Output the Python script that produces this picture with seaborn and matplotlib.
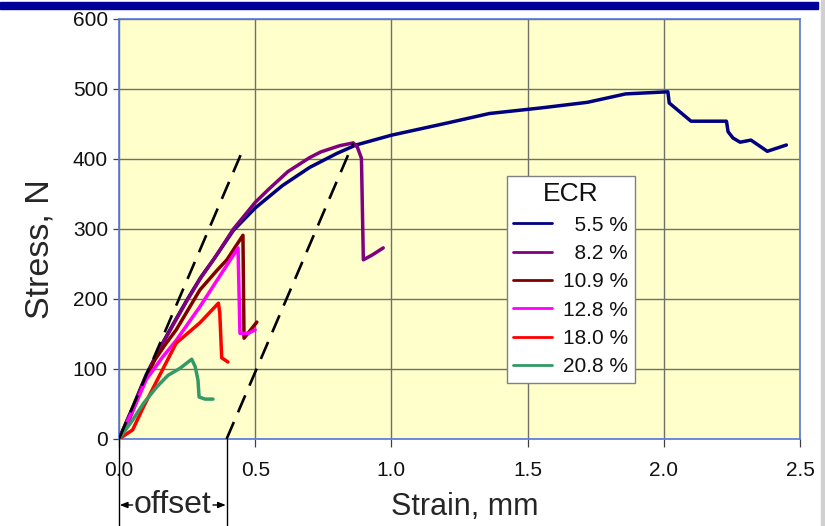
import numpy as np
import pandas as pd
import matplotlib
matplotlib.use("Agg")
import matplotlib.pyplot as plt
from matplotlib.patches import Rectangle
import seaborn as sns

# ---------------- data ----------------
ecr_labels = ["  5.5 %", "  8.2 %", "10.9 %", "12.8 %", "18.0 %", "20.8 %"]
ecr_colors = ["#000080", "#800080", "#800000", "#FF00FF", "#FF0000", "#339966"]

x_55 = [0, 0.05, 0.10, 0.15, 0.20, 0.25, 0.30, 0.35, 0.42, 0.50, 0.60, 0.70, 0.80, 0.87,
        1.00, 1.20, 1.36, 1.55, 1.72, 1.86, 2.015, 2.02, 2.10, 2.23, 2.236, 2.254, 2.28,
        2.32, 2.38, 2.45]
y_55 = [0, 45, 92, 130, 165, 199, 231, 258, 298, 330, 362, 388, 408, 420,
        434, 451, 465, 473, 481, 493, 496, 480, 454, 454, 439, 430, 424,
        427, 411, 420]

x_82 = [0, 0.05, 0.10, 0.15, 0.20, 0.25, 0.30, 0.35, 0.42, 0.50, 0.55, 0.62, 0.70, 0.74,
        0.81, 0.86, 0.875, 0.89, 0.897, 0.93, 0.97]
y_82 = [0, 44, 90, 129, 164, 198, 230, 258, 300, 338, 357, 382, 402, 410,
        419, 423, 417, 401, 256, 263, 273]

x_109 = [0, 0.04, 0.09, 0.13, 0.17, 0.21, 0.297, 0.36, 0.396, 0.455, 0.459, 0.506]
y_109 = [0, 30, 78, 112, 135, 156, 213, 241, 256, 291, 144, 167]

x_128 = [0, 0.05, 0.10, 0.16, 0.21, 0.297, 0.437, 0.444, 0.475, 0.50]
y_128 = [0, 40, 85, 117, 141, 189, 273, 151, 151, 156]

x_180 = [0, 0.05, 0.09, 0.14, 0.21, 0.297, 0.365, 0.37, 0.377, 0.40]
y_180 = [0, 13, 46, 84, 137, 166, 194, 180, 116, 110]

x_208 = [0, 0.05, 0.09, 0.14, 0.18, 0.224, 0.267, 0.28, 0.29, 0.294, 0.316, 0.345]
y_208 = [0, 27, 51, 75, 91, 101, 114, 103, 84, 60, 57, 57]

series_x = [x_55, x_82, x_109, x_128, x_180, x_208]
series_y = [y_55, y_82, y_109, y_128, y_180, y_208]

# offset construction lines
offset1_x = [0.0, 0.46]
offset1_y = [0, 418]
offset2_x = [0.395, 0.86]
offset2_y = [0, 423]
offset_edges = [0.0, 0.395]

x_ticks = [0.0, 0.5, 1.0, 1.5, 2.0, 2.5]
x_ticklabels = ["0.0", "0.5", "1.0", "1.5", "2.0", "2.5"]
y_ticks = [0, 100, 200, 300, 400, 500, 600]

# ---------------- style ----------------
sns.set_style("white")
plt.rcParams["font.family"] = ["Liberation Sans", "DejaVu Sans"]

W, H = 825, 526
fig = plt.figure(figsize=(W / 100, H / 100), dpi=100)
fig.patch.set_facecolor("white")
ax = fig.add_axes([119 / W, 1 - 439 / H, (800 - 119) / W, (439 - 19) / H])
ax.set_facecolor("#FFFFCC")

for xs, ys, lab, col in zip(series_x, series_y, ecr_labels, ecr_colors):
    df = pd.DataFrame({"strain": xs, "stress": ys})
    sns.lineplot(data=df, x="strain", y="stress", sort=False, estimator=None,
                 color=col, lw=2.5, label=lab, ax=ax, zorder=3)

for ox, oy in [(offset1_x, offset1_y), (offset2_x, offset2_y)]:
    df = pd.DataFrame({"strain": ox, "stress": oy})
    sns.lineplot(data=df, x="strain", y="stress", sort=False, estimator=None,
                 color="black", lw=1.9, dashes=False, ax=ax, zorder=4,
                 label="_nolegend_")
for ln in ax.lines[-2:]:
    ln.set_dashes([7, 4])

ax.set_xlim(0, 2.5)
ax.set_ylim(0, 600)
ax.set_xticks(x_ticks)
ax.set_xticklabels(x_ticklabels)
ax.set_yticks(y_ticks)
ax.grid(True, color="#707068", lw=1.0, zorder=1)
ax.set_axisbelow(True)

for s in ax.spines.values():
    s.set_color("#5577DD")
    s.set_linewidth(1.2)

ax.tick_params(axis="x", length=6, width=0.9, color="#404040", pad=10,
               labelsize=15, labelcolor="#111111", direction="out", bottom=True)
ax.tick_params(axis="y", length=4.5, width=0.9, color="#404040", pad=3.5,
               labelsize=15, labelcolor="#111111", direction="out", left=True)

ax.set_xlabel("Strain, mm", fontsize=22)
ax.set_ylabel("Stress, N", fontsize=24.5)
ax.xaxis.set_label_coords((465 - 119) / 681, (439 - 492) / 420)
ax.yaxis.set_label_coords((55 - 119) / 681, (439 - 249) / 420)

handles, labels = ax.get_legend_handles_labels()
leg = ax.legend(handles[:6], labels[:6], title="ECR", title_fontsize=19,
                fontsize=15, loc="upper left",
                bbox_to_anchor=((507 - 119) / 681, (439 - 176) / 420),
                borderaxespad=0, frameon=True, fancybox=False, framealpha=1,
                edgecolor="#808080", facecolor="white", handlelength=1.85,
                labelspacing=0.45, borderpad=0.3, handletextpad=0.55)
leg.get_frame().set_linewidth(1.0)
leg.get_title().set_color("#111111")
for t in leg.get_texts():
    t.set_color("#111111")
for ln in leg.get_lines():
    ln.set_linewidth(2.0)

# offset annotation below the axis
tr = ax.get_xaxis_transform()
for ex in offset_edges:
    ax.plot([ex, ex], [0, -(526 - 439) / 420], transform=tr, color="black",
            lw=1.0, clip_on=False, zorder=5)
ymid = -(505 - 439) / 420
ax.text(sum(offset_edges) / 2, ymid, "offset", transform=tr, ha="center",
        va="center", fontsize=23, clip_on=False)
ax.annotate("", xy=(offset_edges[0] + 0.003, ymid), xytext=(0.05, ymid),
            xycoords=tr, textcoords=tr,
            arrowprops=dict(arrowstyle="-|>,head_length=0.45,head_width=0.18",
                            color="black", lw=1.0, shrinkA=0, shrinkB=0))
ax.annotate("", xy=(offset_edges[1] - 0.003, ymid), xytext=(0.345, ymid),
            xycoords=tr, textcoords=tr,
            arrowprops=dict(arrowstyle="-|>,head_length=0.45,head_width=0.18",
                            color="black", lw=1.0, shrinkA=0, shrinkB=0))

# slide decorations
fig.patches.append(Rectangle((0, 1 - 9 / H), 818 / W, 7 / H,
                             transform=fig.transFigure, color="#000099", zorder=10))
fig.patches.append(Rectangle((821 / W, 0), 4 / W, 1,
                             transform=fig.transFigure, color="#D0D0D0", zorder=10))

fig.savefig("out.png", dpi=100, facecolor="white")
